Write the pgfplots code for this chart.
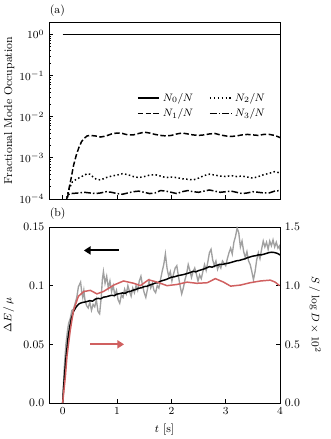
\documentclass[border=0pt]{standalone}
\usepackage{pgfplots}
\pgfplotsset{compat=1.18}
\usetikzlibrary{arrows.meta}
\definecolor{gline}{RGB}{160,160,160}
\definecolor{rline}{RGB}{208,96,96}

\pgfplotsset{
  every axis/.append style={
    font=\fontsize{8.5}{10}\selectfont,
    scale only axis,
    tick align=inside,
    tick style={black, line width=0.5pt},
    major tick length=3pt,
    minor tick length=1.7pt,
    axis line style={line width=0.6pt},
    xmin=-0.25, xmax=4,
  },
}

\begin{document}
\begin{tikzpicture}
\useasboundingbox (0,0) rectangle (244.9pt,-325.7pt);

% (a) mode occupations
\begin{axis}[
  at={(36.4pt,-16.3pt)}, anchor=north west,
  width=171.4pt, height=131.3pt,
  ymode=log, ymin=1e-4, ymax=2,
  xtick={0,1,2,3,4}, xticklabels={},
  ytick={1e-4,1e-3,1e-2,1e-1,1},
  xtick pos=bottom, ytick pos=left,
  ylabel={Fractional Mode Occupation},
  ylabel style={yshift=-3pt},
  legend columns=2,
  legend style={draw=none, fill=none, at={(0.965,0.63)}, anchor=north east,
    font=\fontsize{8.5}{10}\selectfont, /tikz/every even column/.append style={column sep=10pt}},
  legend image code/.code={\draw[#1] (0pt,0pt) -- (16pt,0pt);},
  legend cell align=left,
]
\addplot[black, line width=1.3pt] coordinates {(0,0.99) (4,0.99)};
\addlegendentry{$N_0/N$}
\addplot[black, line width=1.1pt, dash pattern=on 1.1pt off 1.8pt] coordinates {
(0.06,7e-5) (0.09,1.3e-4) (0.13,1.9e-4) (0.18,2.6e-4) (0.25,3.0e-4) (0.35,3.5e-4)
(0.45,4.1e-4) (0.50,4.0e-4) (0.55,3.5e-4) (0.62,3.0e-4) (0.70,2.9e-4) (0.80,3.3e-4)
(0.90,3.6e-4) (1.0,3.8e-4) (1.1,4.1e-4) (1.2,3.9e-4) (1.3,3.5e-4) (1.4,3.3e-4)
(1.5,3.5e-4) (1.6,3.8e-4) (1.7,3.9e-4) (1.8,3.6e-4) (1.9,3.3e-4) (2.0,3.4e-4)
(2.1,3.3e-4) (2.2,3.1e-4) (2.3,3.0e-4) (2.4,2.9e-4) (2.5,3.2e-4) (2.6,3.7e-4)
(2.7,4.0e-4) (2.8,3.8e-4) (2.9,3.6e-4) (3.0,3.5e-4) (3.1,3.7e-4) (3.2,3.5e-4)
(3.3,3.6e-4) (3.4,3.4e-4) (3.5,3.2e-4) (3.6,3.5e-4) (3.7,3.9e-4) (3.8,4.2e-4)
(3.9,4.6e-4) (4.0,4.3e-4)
};
\addlegendentry{$N_2/N$}
\addplot[black, line width=1.1pt, dash pattern=on 4pt off 1.8pt] coordinates {
(0.07,7e-5) (0.11,1.6e-4) (0.16,3.4e-4) (0.20,6.5e-4) (0.25,1.15e-3) (0.30,1.8e-3)
(0.35,2.5e-3) (0.40,3.0e-3) (0.45,3.4e-3) (0.50,3.5e-3) (0.60,3.4e-3) (0.70,3.2e-3)
(0.80,3.4e-3) (0.90,3.8e-3) (1.00,4.0e-3) (1.10,3.9e-3) (1.20,3.6e-3) (1.30,3.6e-3)
(1.40,3.9e-3) (1.50,4.2e-3) (1.60,4.0e-3) (1.70,3.7e-3) (1.80,3.5e-3) (1.90,3.4e-3)
(2.00,3.5e-3) (2.10,3.8e-3) (2.20,4.0e-3) (2.30,3.8e-3) (2.40,3.6e-3) (2.50,3.5e-3)
(2.60,3.6e-3) (2.70,3.8e-3) (2.80,3.9e-3) (2.90,3.6e-3) (3.00,3.4e-3) (3.10,3.3e-3)
(3.20,3.4e-3) (3.30,3.6e-3) (3.40,3.7e-3) (3.50,3.6e-3) (3.60,3.5e-3) (3.70,3.7e-3)
(3.80,3.7e-3) (3.90,3.5e-3) (4.00,3.1e-3)
};
\addlegendentry{$N_1/N$}
\addplot[black, line width=1.1pt, dash pattern=on 5pt off 1.6pt on 1.1pt off 1.6pt] coordinates {
(0.06,8e-5) (0.09,1.25e-4) (0.15,1.35e-4) (0.3,1.4e-4) (0.4,1.45e-4) (0.5,1.4e-4)
(0.6,1.35e-4) (0.7,1.4e-4) (0.8,1.5e-4) (0.9,1.45e-4) (1.0,1.35e-4) (1.1,1.3e-4)
(1.2,1.4e-4) (1.3,1.5e-4) (1.4,1.55e-4) (1.5,1.45e-4) (1.6,1.35e-4) (1.7,1.4e-4)
(1.8,1.6e-4) (1.9,1.55e-4) (2.0,1.45e-4) (2.1,1.35e-4) (2.2,1.5e-4) (2.3,1.6e-4)
(2.4,1.5e-4) (2.5,1.45e-4) (2.6,1.55e-4) (2.7,1.65e-4) (2.8,1.55e-4) (2.9,1.45e-4)
(3.0,1.5e-4) (3.1,1.55e-4) (3.2,1.45e-4) (3.3,1.35e-4) (3.4,1.4e-4) (3.5,1.5e-4)
(3.6,1.45e-4) (3.7,1.4e-4) (3.8,1.4e-4) (3.9,1.55e-4) (4.0,1.6e-4)
};
\addlegendentry{$N_3/N$}
\end{axis}

% (b) energy and entropy
\begin{axis}[
  at={(36.4pt,-168.4pt)}, anchor=north west,
  width=171.4pt, height=130.6pt,
  ymin=0, ymax=0.15,
  xtick={0,1,2,3,4},
  ytick={0,0.05,0.1,0.15}, yticklabels={0.0,0.05,0.1,0.15},
  xtick pos=bottom, ytick pos=left,
  xlabel={$t$ [s]},
  ylabel={$\Delta E\,/\,\mu$},
]
\addplot[gline, line width=1.0pt] coordinates {
(0.0,0.0) (0.03,0.03) (0.06,0.05) (0.09,0.062) (0.11,0.068) (0.14,0.072) (0.17,0.079)
(0.2,0.08) (0.23,0.085) (0.26,0.09) (0.29,0.099) (0.31,0.101) (0.33,0.103) (0.35,0.095)
(0.37,0.09) (0.39,0.096) (0.41,0.088) (0.44,0.083) (0.47,0.081) (0.5,0.086) (0.53,0.079)
(0.56,0.084) (0.59,0.082) (0.62,0.088) (0.65,0.078) (0.68,0.076) (0.71,0.09) (0.73,0.105)
(0.75,0.112) (0.78,0.102) (0.81,0.108) (0.84,0.098) (0.87,0.104) (0.9,0.095) (0.93,0.1)
(0.96,0.092) (0.99,0.096) (1.02,0.088) (1.05,0.085) (1.08,0.092) (1.11,0.09) (1.14,0.097)
(1.17,0.093) (1.2,0.1) (1.23,0.095) (1.26,0.091) (1.29,0.098) (1.32,0.094) (1.35,0.1)
(1.38,0.096) (1.41,0.104) (1.44,0.108) (1.47,0.1) (1.5,0.094) (1.53,0.09) (1.56,0.097)
(1.59,0.104) (1.62,0.098) (1.65,0.102) (1.68,0.096) (1.71,0.094) (1.74,0.1) (1.77,0.098)
(1.8,0.105) (1.83,0.112) (1.86,0.118) (1.89,0.127) (1.92,0.115) (1.95,0.108) (1.98,0.112)
(2.01,0.104) (2.04,0.11) (2.07,0.115) (2.1,0.117) (2.13,0.108) (2.16,0.1) (2.19,0.093)
(2.22,0.098) (2.25,0.105) (2.28,0.11) (2.31,0.118) (2.34,0.113) (2.37,0.107) (2.4,0.112)
(2.43,0.115) (2.46,0.11) (2.49,0.104) (2.52,0.109) (2.55,0.106) (2.58,0.112) (2.61,0.118)
(2.64,0.113) (2.67,0.12) (2.7,0.128) (2.73,0.131) (2.76,0.122) (2.79,0.117) (2.82,0.121)
(2.85,0.114) (2.88,0.118) (2.91,0.115) (2.94,0.121) (2.97,0.119) (3.0,0.117) (3.03,0.123)
(3.06,0.128) (3.09,0.132) (3.12,0.127) (3.15,0.137) (3.18,0.142) (3.21,0.149) (3.24,0.145)
(3.27,0.133) (3.3,0.138) (3.33,0.129) (3.36,0.124) (3.39,0.129) (3.42,0.121) (3.45,0.118)
(3.48,0.112) (3.51,0.105) (3.54,0.112) (3.57,0.122) (3.6,0.128) (3.63,0.123) (3.66,0.131)
(3.69,0.138) (3.72,0.133) (3.75,0.137) (3.78,0.131) (3.81,0.138) (3.84,0.134) (3.87,0.139)
(3.9,0.133) (3.93,0.137) (3.96,0.132) (3.99,0.134) (4.0,0.13)
};
\addplot[black, line width=1.1pt] coordinates {
(0,0) (0.02,0.015) (0.04,0.027) (0.06,0.038) (0.08,0.047) (0.10,0.056) (0.13,0.065)
(0.16,0.072) (0.20,0.078) (0.25,0.082) (0.30,0.0845) (0.35,0.0855) (0.40,0.086)
(0.45,0.0865) (0.5,0.0872) (0.55,0.0868) (0.6,0.0885) (0.65,0.0892) (0.7,0.0888)
(0.75,0.0902) (0.8,0.0905) (0.85,0.0912) (0.9,0.0918) (0.95,0.0915) (1.0,0.0928)
(1.05,0.0932) (1.1,0.0938) (1.15,0.0935) (1.2,0.0948) (1.25,0.0952) (1.3,0.0962)
(1.35,0.0968) (1.4,0.0978) (1.45,0.0982) (1.5,0.0992) (1.55,0.0995) (1.6,0.1005)
(1.65,0.1012) (1.7,0.1022) (1.75,0.1025) (1.8,0.1038) (1.85,0.1045) (1.9,0.1052)
(1.95,0.1062) (2.0,0.1072) (2.05,0.1075) (2.1,0.1082) (2.15,0.1088) (2.2,0.1092)
(2.25,0.1098) (2.3,0.1105) (2.35,0.1112) (2.4,0.1122) (2.45,0.1118) (2.5,0.1128)
(2.55,0.1135) (2.6,0.1142) (2.65,0.1152) (2.7,0.1162) (2.75,0.1158) (2.8,0.1168)
(2.85,0.1175) (2.9,0.1182) (2.95,0.1182) (3.0,0.1188) (3.05,0.1192) (3.1,0.1198)
(3.15,0.1205) (3.2,0.1212) (3.25,0.1215) (3.3,0.1222) (3.35,0.1228) (3.4,0.1238)
(3.45,0.1245) (3.5,0.1252) (3.55,0.1255) (3.6,0.1262) (3.65,0.1262) (3.7,0.1268)
(3.75,0.1275) (3.8,0.1282) (3.85,0.1285) (3.9,0.1282) (3.95,0.1275) (4.0,0.1262)
};
\draw[black, line width=1.5pt, -{Triangle[length=5pt,width=6pt]}] (axis cs:1.03,0.130) -- (axis cs:0.39,0.130);
\draw[rline, line width=1.5pt, -{Triangle[length=5pt,width=6pt]}] (axis cs:0.50,0.050) -- (axis cs:1.13,0.050);
\end{axis}

\begin{axis}[
  at={(36.4pt,-168.4pt)}, anchor=north west,
  width=171.4pt, height=130.6pt,
  axis x line=none, axis y line*=right,
  ymin=0, ymax=1.5,
  ytick={0,0.5,1,1.5}, yticklabels={0.0,0.5,1.0,1.5},
  ylabel={$S\,/\,\log D\times 10^2$},
  ylabel style={rotate=180},
]
\addplot[rline, line width=1.1pt] coordinates {
(0.0,0.0) (0.05,0.226) (0.08,0.40) (0.14,0.62) (0.2,0.79) (0.29,0.91) (0.39,0.95)
(0.51,0.96) (0.63,0.93) (0.75,0.95) (0.94,1.005) (1.12,1.04) (1.31,1.02) (1.43,1.0)
(1.58,1.05) (1.74,1.03) (1.92,1.0) (2.1,1.01) (2.29,1.03) (2.47,1.02) (2.66,1.025)
(2.81,1.06) (2.96,1.03) (3.09,0.996) (3.27,1.005) (3.45,1.025) (3.64,1.04) (3.82,1.047)
(3.91,1.03) (3.99,1.0)
};
\end{axis}

\node[anchor=west, font=\fontsize{8.5}{10}\selectfont, inner sep=0pt] at (36.8pt,-8.2pt) {(a)};
\node[anchor=west, font=\fontsize{8.5}{10}\selectfont, inner sep=0pt] at (36.8pt,-158.5pt) {(b)};
\end{tikzpicture}
\end{document}
